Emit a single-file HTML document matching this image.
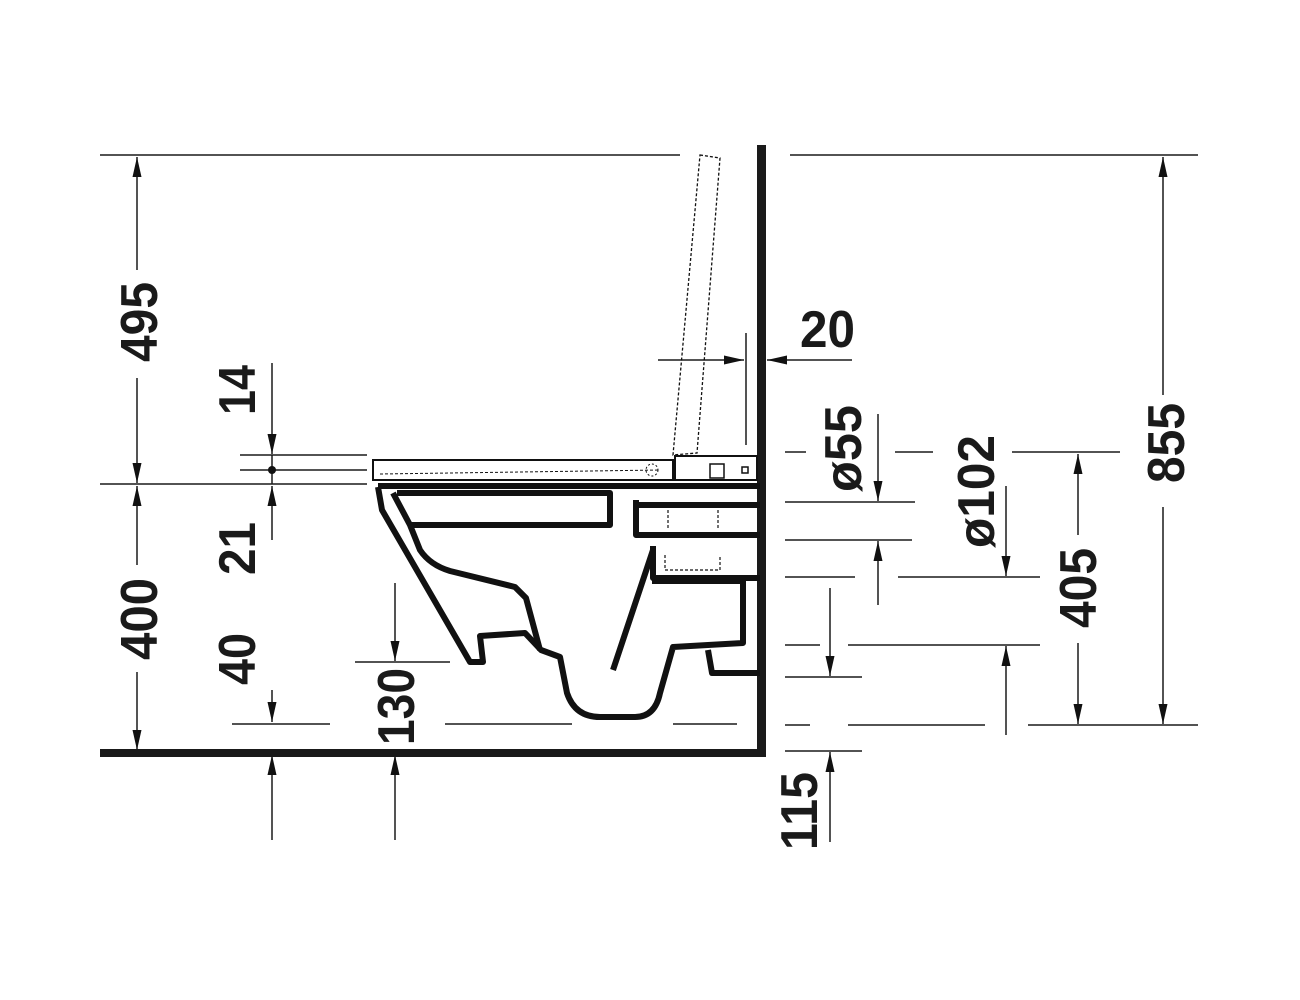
<!DOCTYPE html>
<html><head><meta charset="utf-8"><style>
html,body{margin:0;padding:0;background:#fff}
svg{display:block}
text{font-family:"Liberation Sans",sans-serif;font-weight:bold;fill:#1a1a1a}
</style></head><body>
<svg width="1300" height="1000" viewBox="0 0 1300 1000" xmlns="http://www.w3.org/2000/svg">
<defs>
<marker id="a" viewBox="0 0 20 10" refX="20" refY="5" markerWidth="20" markerHeight="11" markerUnits="userSpaceOnUse" orient="auto-start-reverse">
<path d="M0,0.5 L20,5 L0,9.5z" fill="#111"/></marker>
</defs>
<g stroke="#1a1a1a" stroke-width="1.5" fill="none">
<line x1="100" y1="155" x2="680" y2="155"/>
<line x1="100" y1="484" x2="367" y2="484"/>
<line x1="240" y1="455" x2="367" y2="455"/>
<line x1="240" y1="470" x2="367" y2="470"/>
<line x1="232" y1="724" x2="330" y2="724"/>
<line x1="445" y1="724" x2="572" y2="724"/>
<line x1="673" y1="724" x2="737" y2="724"/>
<line x1="355" y1="662" x2="450" y2="662"/>
<line x1="137" y1="270" x2="137" y2="157" marker-end="url(#a)"/>
<line x1="137" y1="378" x2="137" y2="483" marker-end="url(#a)"/>
<line x1="137" y1="565" x2="137" y2="486" marker-end="url(#a)"/>
<line x1="137" y1="672" x2="137" y2="750" marker-end="url(#a)"/>
<line x1="272" y1="363" x2="272" y2="454" marker-end="url(#a)"/>
<line x1="272" y1="540" x2="272" y2="486" marker-end="url(#a)"/>
<line x1="272" y1="690" x2="272" y2="722" marker-end="url(#a)"/>
<line x1="272" y1="840" x2="272" y2="755" marker-end="url(#a)"/>
<line x1="272" y1="455" x2="272" y2="484"/>
<line x1="395" y1="583" x2="395" y2="661" marker-end="url(#a)"/>
<line x1="395" y1="840" x2="395" y2="755" marker-end="url(#a)"/>
<line x1="658" y1="360" x2="744" y2="360" marker-end="url(#a)"/>
<line x1="852" y1="360" x2="767" y2="360" marker-end="url(#a)"/>
<line x1="746" y1="333" x2="746" y2="445"/>
<line x1="790" y1="155" x2="1198" y2="155"/>
<line x1="785" y1="452" x2="806" y2="452"/><line x1="895" y1="452" x2="933" y2="452"/><line x1="1012" y1="452" x2="1120" y2="452"/>
<line x1="785" y1="502" x2="915" y2="502"/>
<line x1="785" y1="540" x2="912" y2="540"/>
<line x1="785" y1="577" x2="855" y2="577"/><line x1="898" y1="577" x2="1040" y2="577"/>
<line x1="785" y1="645" x2="820" y2="645"/><line x1="848" y1="645" x2="1040" y2="645"/>
<line x1="785" y1="677" x2="862" y2="677"/>
<line x1="785" y1="725" x2="810" y2="725"/><line x1="848" y1="725" x2="985" y2="725"/><line x1="1028" y1="725" x2="1198" y2="725"/>
<line x1="785" y1="751" x2="862" y2="751"/>
<line x1="878" y1="414" x2="878" y2="501" marker-end="url(#a)"/>
<line x1="878" y1="605" x2="878" y2="541" marker-end="url(#a)"/>
<line x1="1006" y1="486" x2="1006" y2="576" marker-end="url(#a)"/>
<line x1="1006" y1="735" x2="1006" y2="646" marker-end="url(#a)"/>
<line x1="830" y1="588" x2="830" y2="676" marker-end="url(#a)"/>
<line x1="830" y1="842" x2="830" y2="752" marker-end="url(#a)"/>
<line x1="1078" y1="535" x2="1078" y2="454" marker-end="url(#a)"/>
<line x1="1078" y1="643" x2="1078" y2="724" marker-end="url(#a)"/>
<line x1="1163" y1="395" x2="1163" y2="157" marker-end="url(#a)"/>
<line x1="1163" y1="507" x2="1163" y2="724" marker-end="url(#a)"/>
</g>
<circle cx="272" cy="470" r="4" fill="#111"/>
<rect x="757" y="145" width="9" height="612" fill="#1a1a1a"/>
<rect x="100" y="749" width="666" height="8" fill="#1a1a1a"/>
<path d="M700,155 L720,158 L697,453 L673,455 Z" fill="none" stroke="#111" stroke-width="1.3" stroke-dasharray="3,2"/>
<rect x="373" y="460" width="300" height="20" fill="none" stroke="#111" stroke-width="2"/>
<path d="M380,474 L660,470" stroke="#111" stroke-dasharray="3,2" fill="none"/>
<circle cx="652" cy="470" r="6" fill="none" stroke="#111" stroke-dasharray="2,2"/>
<rect x="675" y="456" width="82" height="24" fill="none" stroke="#111" stroke-width="2"/>
<rect x="710" y="464" width="14" height="14" fill="none" stroke="#111" stroke-width="1.5"/>
<rect x="742" y="467" width="6" height="6" fill="none" stroke="#111" stroke-width="1.5"/>
<g fill="none" stroke="#111" stroke-width="6" stroke-linejoin="round">
<path d="M378,487 L382,510 L470,662 L483,662 L480,636 L525,633 L541,650 L560,657 L567,693 Q575,717 600,717 L635,717 Q655,717 660,693 L673,647 L743,643 L743,581 L652,581"/>
<path d="M393,493 L410,525 L420,550 Q430,565 450,571 L515,587 L526,598 L540,650"/>
<path d="M653,550 L613,670"/>
<path d="M378,486 L760,486"/>
<path d="M397,493 L610,493 L610,525 L410,525"/>
<path d="M636,500 L636,535 L760,535"/>
<path d="M636,505 L760,505"/>
<path d="M653,546 L653,578 L760,578"/>
<path d="M708,650 L712,673 L760,673"/>
</g>
<g fill="none" stroke="#111" stroke-width="1.2" stroke-dasharray="3,2">
<path d="M668,510 L668,530 M718,510 L718,530 M665,555 L665,570 L720,570 L720,555"/>
</g>
<g font-size="52">
<text transform="translate(157,362) rotate(-90)" textLength="80" lengthAdjust="spacingAndGlyphs">495</text>
<text transform="translate(157,660) rotate(-90)" textLength="82" lengthAdjust="spacingAndGlyphs">400</text>
<text transform="translate(255,415) rotate(-90)" textLength="50" lengthAdjust="spacingAndGlyphs">14</text>
<text transform="translate(255,575) rotate(-90)" textLength="53" lengthAdjust="spacingAndGlyphs">21</text>
<text transform="translate(255,685) rotate(-90)" textLength="52" lengthAdjust="spacingAndGlyphs">40</text>
<text transform="translate(414,745) rotate(-90)" textLength="77" lengthAdjust="spacingAndGlyphs">130</text>
<text x="800" y="347" textLength="55" lengthAdjust="spacingAndGlyphs">20</text>
<text transform="translate(861,492) rotate(-90)" textLength="87" lengthAdjust="spacingAndGlyphs">ø55</text>
<text transform="translate(994,548) rotate(-90)" textLength="113" lengthAdjust="spacingAndGlyphs">ø102</text>
<text transform="translate(1096,628) rotate(-90)" textLength="80" lengthAdjust="spacingAndGlyphs">405</text>
<text transform="translate(1184,483) rotate(-90)" textLength="80" lengthAdjust="spacingAndGlyphs">855</text>
<text transform="translate(817,850) rotate(-90)" textLength="78" lengthAdjust="spacingAndGlyphs">115</text>
</g>
</svg>
</body></html>
